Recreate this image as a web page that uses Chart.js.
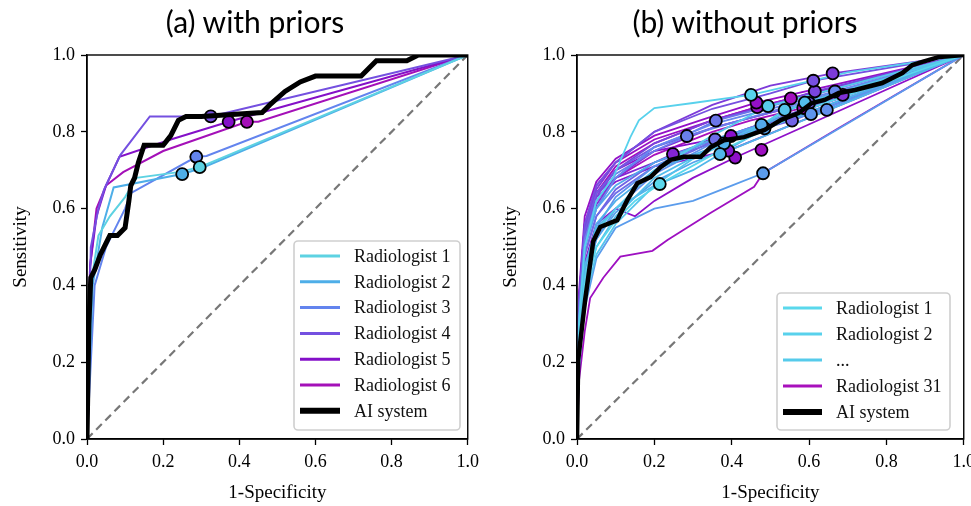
<!DOCTYPE html>
<html>
<head>
<meta charset="utf-8">
<script src="https://cdn.jsdelivr.net/npm/chart.js@4.4.1/dist/chart.umd.min.js"></script>
<style>
html, body { margin: 0; padding: 0; background: #fff; overflow: hidden; width: 971px; height: 506px; }
#wrap { position: relative; width: 971px; height: 506px; overflow: hidden; }
canvas { position: absolute; top: 0; }
#ca { left: 0; }
#cb { left: 490px; }
.ttl { position: absolute; top: 4px; font-family: Lato, "Open Sans", sans-serif; font-size: 30px; line-height: 34px;
       white-space: nowrap; transform: translateX(-50%); color: #000; }
</style>
</head>
<body>
<div id="wrap">
  <canvas id="ca" width="485" height="506"></canvas>
  <canvas id="cb" width="491" height="506"></canvas>
  <div class="ttl" style="left:255px">(a) with priors</div>
  <div class="ttl" style="left:745px">(b) without priors</div>
</div>
<script>
// ---------- data: panel (a) with priors ----------
const ticksXY = [0, 0.2, 0.4, 0.6, 0.8, 1.0];
const chanceLine = [[0, 0], [1, 1]];

const aiWithPriors = [[0,0],[0.005,0.3],[0.01,0.42],[0.02,0.44],[0.035,0.48],[0.05,0.51],[0.06,0.53],[0.08,0.53],
  [0.1,0.55],[0.11,0.62],[0.115,0.66],[0.125,0.68],[0.135,0.72],[0.15,0.765],[0.2,0.765],[0.22,0.79],[0.24,0.83],
  [0.26,0.84],[0.3,0.84],[0.46,0.85],[0.48,0.87],[0.52,0.905],[0.56,0.93],[0.6,0.945],[0.72,0.945],[0.76,0.985],
  [0.84,0.985],[0.87,1.0],[1,1]];

const rad1A = [[0,0],[0.01,0.4],[0.03,0.53],[0.06,0.58],[0.1,0.63],[0.13,0.68],[0.24,0.695],[0.296,0.708],[1,1]];
const rad2A = [[0,0],[0.015,0.4],[0.04,0.55],[0.07,0.655],[0.25,0.69],[0.3,0.705],[1,1]];
const rad3A = [[0,0],[0.02,0.4],[0.05,0.5],[0.07,0.54],[0.1,0.6],[0.115,0.64],[0.287,0.735],[0.314,0.737],[1,1]];
const rad4A = [[0,0],[0.01,0.5],[0.03,0.6],[0.045,0.65],[0.088,0.74],[0.165,0.84],[0.325,0.84],[1,1]];
const rad5A = [[0,0],[0.008,0.45],[0.025,0.58],[0.05,0.66],[0.085,0.735],[0.22,0.78],[0.372,0.826],[1,1]];
const rad6A = [[0,0],[0.008,0.45],[0.025,0.6],[0.05,0.66],[0.095,0.695],[0.2,0.75],[0.42,0.826],[0.45,0.826],[1,1]];
const opPointsA = [[0.296,0.708],[0.25,0.69],[0.287,0.735],[0.325,0.84],[0.372,0.826],[0.42,0.826]];
const namesA = ['Radiologist 1','Radiologist 2','Radiologist 3','Radiologist 4','Radiologist 5','Radiologist 6'];

// ---------- data: panel (b) without priors ----------
const aiWithoutPriors = [[0,0],[0.003,0.206],[0.021,0.362],[0.042,0.515],[0.06,0.552],[0.104,0.57],[0.13,0.622],
  [0.156,0.666],[0.19,0.682],[0.216,0.708],[0.242,0.727],[0.276,0.735],[0.32,0.735],[0.346,0.76],[0.38,0.778],
  [0.432,0.786],[0.485,0.805],[0.528,0.831],[0.573,0.849],[0.607,0.875],[0.64,0.883],[0.677,0.901],[0.719,0.909],
  [0.789,0.927],[0.841,0.953],[0.867,0.974],[0.893,0.982],[0.937,0.995],[1,1]];

const radCurvesB = [
  [[0,0],[0.005,0.2],[0.02,0.4],[0.05,0.5],[0.1,0.57],[0.15,0.62],[0.214,0.664],[0.35,0.74],[0.6,0.86],[1,1]],
  [[0,0],[0.005,0.3],[0.02,0.5],[0.05,0.62],[0.094,0.682],[0.138,0.786],[0.16,0.83],[0.2,0.862],[0.3,0.875],[0.45,0.896],[0.7,0.955],[1,1]],
  [[0,0],[0.005,0.22],[0.02,0.42],[0.05,0.54],[0.1,0.6],[0.2,0.7],[0.35,0.79],[0.494,0.867],[1,1]],
  [[0,0],[0.005,0.18],[0.02,0.36],[0.05,0.48],[0.1,0.56],[0.2,0.66],[0.3,0.73],[0.45,0.8],[0.537,0.857],[1,1]],
  [[0,0],[0.005,0.2],[0.02,0.38],[0.05,0.5],[0.1,0.58],[0.2,0.68],[0.35,0.76],[0.5,0.83],[0.589,0.876],[1,1]],
  [[0,0],[0.005,0.28],[0.02,0.45],[0.05,0.55],[0.1,0.6],[0.2,0.66],[0.3,0.7],[0.37,0.742],[1,1]],
  [[0,0],[0.005,0.26],[0.02,0.44],[0.05,0.56],[0.1,0.62],[0.2,0.7],[0.3,0.74],[0.38,0.77],[1,1]],
  [[0,0],[0.005,0.3],[0.02,0.5],[0.05,0.6],[0.1,0.66],[0.2,0.72],[0.35,0.78],[0.477,0.818],[1,1]],
  [[0,0],[0.005,0.24],[0.02,0.42],[0.05,0.52],[0.1,0.59],[0.2,0.67],[0.3,0.72],[0.4,0.76],[0.485,0.809],[1,1]],
  [[0,0],[0.005,0.2],[0.02,0.34],[0.05,0.47],[0.1,0.55],[0.2,0.6],[0.3,0.62],[0.4,0.66],[0.481,0.692],[1,1]],
  [[0,0],[0.005,0.25],[0.02,0.44],[0.05,0.55],[0.1,0.63],[0.2,0.71],[0.35,0.78],[0.5,0.82],[0.605,0.846],[1,1]],
  [[0,0],[0.005,0.22],[0.02,0.4],[0.05,0.52],[0.1,0.6],[0.2,0.69],[0.35,0.77],[0.5,0.82],[0.646,0.857],[1,1]],
  [[0,0],[0.005,0.3],[0.02,0.5],[0.05,0.6],[0.1,0.68],[0.2,0.76],[0.35,0.82],[0.5,0.86],[0.667,0.905],[1,1]],
  [[0,0],[0.005,0.32],[0.02,0.52],[0.05,0.62],[0.1,0.69],[0.2,0.75],[0.284,0.789],[1,1]],
  [[0,0],[0.005,0.3],[0.02,0.5],[0.05,0.6],[0.1,0.68],[0.2,0.76],[0.3,0.8],[0.359,0.829],[1,1]],
  [[0,0],[0.005,0.28],[0.02,0.48],[0.05,0.58],[0.1,0.64],[0.2,0.71],[0.3,0.75],[0.357,0.78],[1,1]],
  [[0,0],[0.005,0.3],[0.02,0.48],[0.05,0.58],[0.1,0.65],[0.2,0.72],[0.35,0.77],[0.45,0.8],[0.556,0.829],[1,1]],
  [[0,0],[0.005,0.34],[0.02,0.54],[0.05,0.64],[0.1,0.7],[0.2,0.76],[0.35,0.81],[0.5,0.85],[0.6,0.875],[1,1]],
  [[0,0],[0.005,0.36],[0.02,0.56],[0.05,0.66],[0.1,0.72],[0.2,0.8],[0.35,0.86],[0.5,0.9],[0.611,0.933],[1,1]],
  [[0,0],[0.005,0.33],[0.02,0.53],[0.05,0.63],[0.1,0.7],[0.2,0.77],[0.35,0.83],[0.5,0.87],[0.615,0.905],[1,1]],
  [[0,0],[0.005,0.34],[0.02,0.55],[0.05,0.65],[0.1,0.72],[0.2,0.8],[0.35,0.87],[0.5,0.92],[0.661,0.952],[1,1]],
  [[0,0],[0.005,0.3],[0.02,0.5],[0.05,0.61],[0.1,0.68],[0.2,0.75],[0.35,0.81],[0.5,0.85],[0.687,0.896],[1,1]],
  [[0,0],[0.005,0.35],[0.02,0.55],[0.05,0.64],[0.1,0.68],[0.2,0.72],[0.248,0.742],[1,1]],
  [[0,0],[0.005,0.36],[0.02,0.56],[0.05,0.63],[0.1,0.67],[0.2,0.71],[0.3,0.73],[0.391,0.751],[1,1]],
  [[0,0],[0.005,0.34],[0.02,0.54],[0.05,0.64],[0.1,0.7],[0.2,0.75],[0.3,0.77],[0.398,0.789],[1,1]],
  [[0,0],[0.005,0.3],[0.02,0.46],[0.05,0.56],[0.1,0.6],[0.15,0.58],[0.2,0.62],[0.3,0.68],[0.409,0.733],[1,1]],
  [[0,0],[0.005,0.38],[0.02,0.58],[0.05,0.67],[0.1,0.73],[0.2,0.79],[0.35,0.84],[0.464,0.876],[1,1]],
  [[0,0],[0.005,0.36],[0.02,0.56],[0.05,0.66],[0.1,0.72],[0.2,0.78],[0.35,0.83],[0.466,0.864],[1,1]],
  [[0,0],[0.005,0.15],[0.02,0.28],[0.034,0.367],[0.068,0.42],[0.112,0.475],[0.195,0.49],[0.234,0.518],[0.346,0.589],[0.458,0.657],[0.481,0.692],[0.677,0.81],[1,1]],
  [[0,0],[0.005,0.35],[0.02,0.55],[0.05,0.64],[0.1,0.71],[0.2,0.77],[0.35,0.83],[0.45,0.86],[0.553,0.887],[1,1]],
  [[0,0],[0.005,0.33],[0.02,0.52],[0.05,0.62],[0.1,0.68],[0.2,0.74],[0.35,0.8],[0.45,0.83],[0.585,0.862],[1,1]]
];
const opPointsB = [[0.214,0.664],[0.45,0.896],[0.494,0.867],[0.537,0.857],[0.589,0.876],[0.37,0.742],[0.38,0.77],
  [0.477,0.818],[0.485,0.809],[0.481,0.692],[0.605,0.846],[0.646,0.857],[0.667,0.905],[0.284,0.789],[0.359,0.829],
  [0.357,0.78],[0.556,0.829],[0.6,0.875],[0.611,0.933],[0.615,0.905],[0.661,0.952],[0.687,0.896],[0.248,0.742],
  [0.391,0.751],[0.398,0.789],[0.409,0.733],[0.464,0.876],[0.466,0.864],[0.477,0.753],[0.553,0.887],[0.585,0.862]];
const legendNamesB = ['Radiologist 1', 'Radiologist 2', '...', 'Radiologist 31'];

// ---------- styling ----------
const colorsA = ['#5dd2e2', '#4eaee8', '#6384ee', '#7450e0', '#8410c8', '#a410b8'];
const gradStops = ['#5ad8ec', '#4fb0ea', '#6688ee', '#7650e0', '#8a10cc', '#a810bc'];
const SERIF = '"Liberation Serif", "Times New Roman", serif';

function hex(c) { return [1, 3, 5].map(i => parseInt(c.substr(i, 2), 16)); }
function gradColor(t) {
  const p = t * (gradStops.length - 1), i = Math.min(Math.floor(p), gradStops.length - 2), f = p - i;
  const a = hex(gradStops[i]), b = hex(gradStops[i + 1]);
  return 'rgb(' + a.map((v, k) => Math.round(v + (b[k] - v) * f)).join(',') + ')';
}
const pts = arr => arr.map(([x, y]) => ({ x, y }));

function lineSet(data, color, width, order, extra) {
  return Object.assign({ data: pts(data), showLine: true, borderColor: color, borderWidth: width,
    pointRadius: 0, pointHoverRadius: 0, fill: false, tension: 0, order }, extra || {});
}
function markerSet(p, color) {
  return { data: pts([p]), showLine: false, pointRadius: 6, pointBorderWidth: 1.8,
    pointBackgroundColor: color, pointBorderColor: '#000', order: 1 };
}

const framePlugin = {
  id: 'frame',
  afterDraw(chart) {
    const { ctx, chartArea: a } = chart;
    ctx.save();
    ctx.strokeStyle = '#000'; ctx.lineWidth = 1.4;
    ctx.strokeRect(a.left, a.top, a.right - a.left, a.bottom - a.top);
    ctx.restore();
  }
};
const boxLegend = {
  id: 'boxLegend',
  afterDraw(chart, args, o) {
    if (!o.items) return;
    const { ctx } = chart;
    ctx.save();
    ctx.beginPath();
    ctx.roundRect(o.x, o.y, o.w, o.h, 4);
    ctx.fillStyle = 'rgba(255,255,255,0.85)'; ctx.fill();
    ctx.strokeStyle = '#cfcfcf'; ctx.lineWidth = 1.6; ctx.stroke();
    ctx.font = '18px ' + SERIF; ctx.textBaseline = 'middle'; ctx.fillStyle = '#111';
    o.items.forEach((it, i) => {
      const y = o.row0 + i * o.dy;
      ctx.beginPath(); ctx.moveTo(o.lx0, y); ctx.lineTo(o.lx1, y);
      ctx.strokeStyle = it.color; ctx.lineWidth = it.width; ctx.stroke();
      ctx.fillText(it.text, o.tx, y + 1);
    });
    ctx.restore();
  }
};

function axis(title, fit, titlePad) {
  return {
    type: 'linear', min: 0, max: 1,
    afterBuildTicks: s => { s.ticks = ticksXY.map(v => ({ value: v })); },
    ticks: { callback: v => Number(v).toFixed(1), color: '#000', font: { family: SERIF, size: 18 }, padding: 6 },
    grid: { drawOnChartArea: false, drawTicks: true, tickLength: 6, tickColor: '#000', tickWidth: 1.3 },
    border: { display: true, color: '#000', width: 1.4 },
    title: { display: true, text: title, color: '#000', font: { family: SERIF, size: 19 }, padding: titlePad },
    afterFit: fit
  };
}

function makeChart(id, datasets, legend) {
  return new Chart(document.getElementById(id), {
    type: 'scatter',
    data: { datasets },
    options: {
      responsive: false, animation: false, events: [],
      layout: { padding: { top: 55, right: 16, bottom: 0, left: 0 } },
      plugins: { legend: { display: false }, tooltip: { enabled: false }, boxLegend: legend },
      scales: {
        x: axis('1-Specificity', s => { s.height = 67; }, { top: 0, bottom: 2 }),
        y: axis('Sensitivity', s => { s.width = 87; }, { top: 10, bottom: 0 })
      }
    },
    plugins: [framePlugin, boxLegend]
  });
}

// ---------- panel (a) ----------
const radA = [rad1A, rad2A, rad3A, rad4A, rad5A, rad6A];
const dsA = [lineSet(chanceLine, '#777', 2.2, 5, { borderDash: [8, 5] })];
radA.forEach((c, i) => dsA.push(lineSet(c, colorsA[i], 2, 3)));
opPointsA.forEach((p, i) => dsA.push(markerSet(p, colorsA[i])));
dsA.push(lineSet(aiWithPriors, '#000', 5, 0));
const legA = {
  x: 294, y: 241, w: 166, h: 189, lx0: 300, lx1: 340, tx: 354, row0: 256, dy: 25.8,
  items: namesA.map((n, i) => ({ text: n, color: colorsA[i], width: 3 }))
    .concat([{ text: 'AI system', color: '#000', width: 6 }])
};
makeChart('ca', dsA, legA);

// ---------- panel (b) ----------
const nB = radCurvesB.length;
const dsB = [lineSet(chanceLine, '#777', 2.2, 5, { borderDash: [8, 5] })];
radCurvesB.forEach((c, i) => dsB.push(lineSet(c, gradColor(i / (nB - 1)), 1.8, 3)));
opPointsB.forEach((p, i) => dsB.push(markerSet(p, gradColor(i / (nB - 1)))));
dsB.push(lineSet(aiWithoutPriors, '#000', 4.5, 0));
const legB = {
  x: 777 - 490, y: 293, w: 173, h: 137, lx0: 783 - 490, lx1: 822 - 490, tx: 836 - 490, row0: 308, dy: 26,
  items: [
    { text: legendNamesB[0], color: gradColor(0), width: 3 },
    { text: legendNamesB[1], color: gradColor(1 / (nB - 1)), width: 3 },
    { text: legendNamesB[2], color: gradColor(2 / (nB - 1)), width: 3 },
    { text: legendNamesB[3], color: gradColor(1), width: 3 },
    { text: 'AI system', color: '#000', width: 6 }
  ]
};
makeChart('cb', dsB, legB);
</script>
</body>
</html>
